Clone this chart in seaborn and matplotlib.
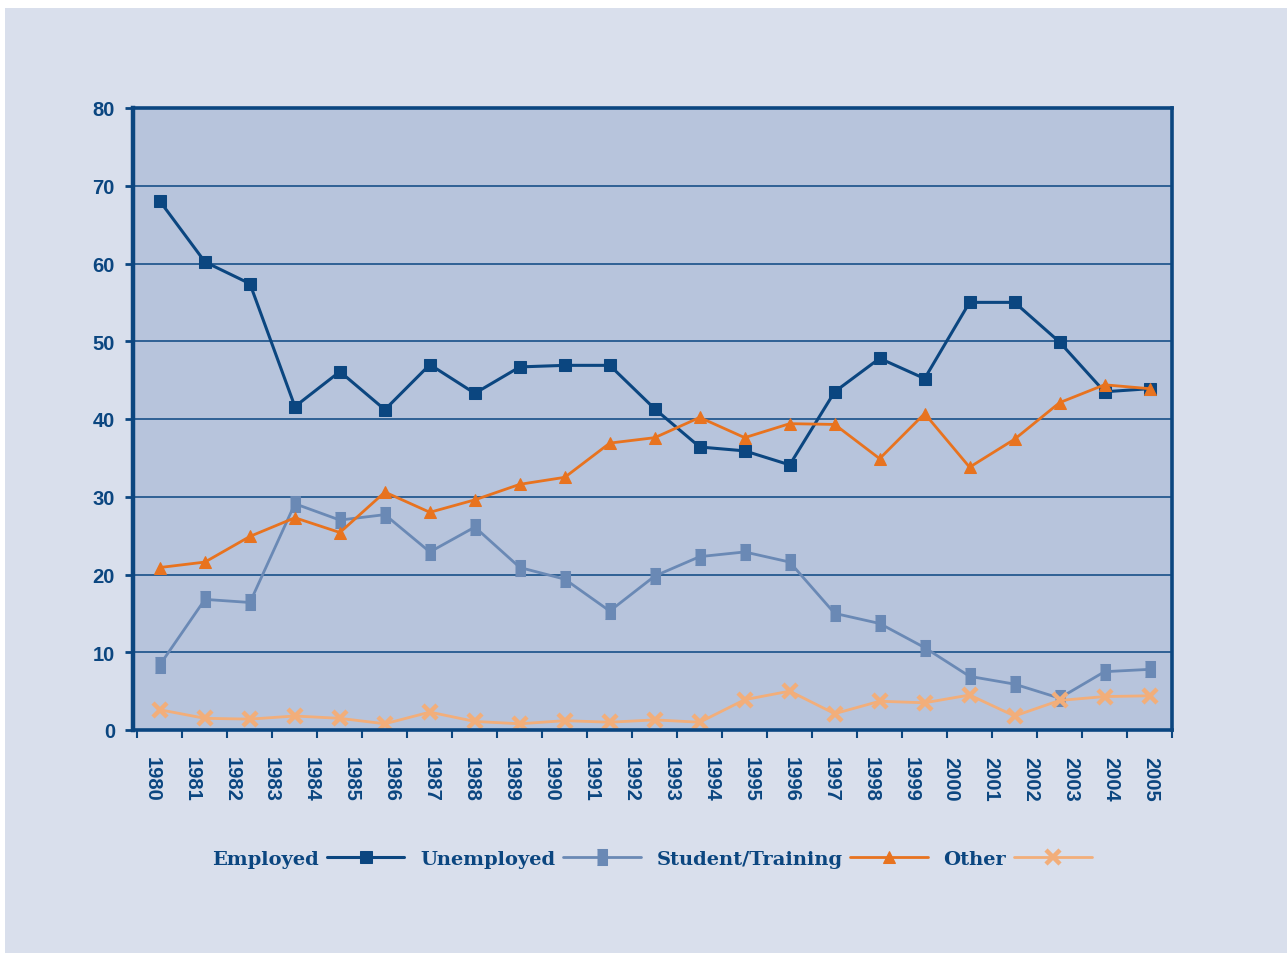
import numpy as np
import pandas as pd
import seaborn as sns
import matplotlib.pyplot as plt
from matplotlib.patches import Rectangle

# year labels shown under the axis (26 of them) -- the series only have 23 points
year_labels = [str(y) for y in range(1980, 2006)]

employed = [68.0, 60.2, 57.4, 41.6, 46.1, 41.2, 47.0, 43.3, 46.7, 46.9, 46.9, 41.3,
            36.4, 35.9, 34.1, 43.5, 47.8, 45.2, 55.0, 55.0, 49.9, 43.5, 43.9]
unemployed = [8.4, 16.8, 16.4, 29.1, 27.0, 27.7, 22.9, 26.1, 20.9, 19.4, 15.3, 19.8,
              22.3, 22.9, 21.6, 15.0, 13.7, 10.6, 6.9, 5.9, 4.1, 7.5, 7.8]
student = [20.9, 21.6, 24.9, 27.3, 25.4, 30.6, 28.0, 29.6, 31.6, 32.5, 36.9, 37.6,
           40.2, 37.6, 39.4, 39.3, 34.9, 40.7, 33.8, 37.4, 42.1, 44.4, 43.9]
other = [2.6, 1.5, 1.4, 1.8, 1.5, 0.8, 2.3, 1.1, 0.8, 1.2, 1.0, 1.3,
         1.0, 3.9, 5.0, 2.1, 3.7, 3.5, 4.5, 1.8, 3.8, 4.3, 4.4]

series_names = ['Employed', 'Unemployed', 'Student/Training', 'Other']

df = pd.DataFrame({'point': np.arange(len(employed)),
                   'Employed': employed,
                   'Unemployed': unemployed,
                   'Student/Training': student,
                   'Other': other})
long_df = df.melt(id_vars='point', var_name='status', value_name='pct')

navy = '#0B4680'
styles = {
    'Employed': dict(color=navy, marker='s', markersize=8.5, lw=2.2, mec=navy),
    'Unemployed': dict(color='#6A89B5', marker=[(-0.6, -1), (0.6, -1), (0.6, 1), (-0.6, 1)],
                       markersize=11, lw=2.0, mec='#6A89B5'),
    'Student/Training': dict(color='#E8731F', marker='^', markersize=9, lw=2.0, mec='#E8731F'),
    'Other': dict(color='#F2AE7A', marker='x', markersize=10, mew=3.2, lw=2.0, mec='#F2AE7A'),
}

sns.set_style('white')
plt.rcParams['font.family'] = ['Liberation Sans', 'DejaVu Sans']

fig = plt.figure(figsize=(12.87, 9.54), dpi=100, facecolor='white')
fig.patches.append(Rectangle((5 / 1287, 0), 1, 1 - 9 / 954, transform=fig.transFigure,
                             facecolor='#D9DFEC', edgecolor='none', zorder=-10))
ax = fig.add_axes([133 / 1287, 1 - 731 / 954, 1039 / 1287, 622 / 954])
ax.set_facecolor('#B7C4DC')

for name in series_names:
    sub = long_df[long_df['status'] == name]
    sns.lineplot(data=sub, x='point', y='pct', ax=ax, label=name, **styles[name])

ax.set_xlim(-0.6, 22.47)
ax.set_ylim(0, 80)
ax.set_yticks(range(0, 81, 10))
ax.yaxis.grid(True, color='#24598F', lw=1.3)
ax.set_axisbelow(True)

# year labels are spread a bit tighter than the data points in the original
ax.set_xticks(np.linspace(-0.18, 22.02, len(year_labels)))
ax.set_xticklabels(year_labels, rotation=-90)
ax.set_xticks(np.arange(-0.5, 22.6, 1), minor=True)
ax.tick_params(axis='x', which='major', length=0, pad=19)
ax.tick_params(axis='x', which='minor', length=6, width=1.5, color=navy, direction='out',
               bottom=True)
ax.tick_params(axis='y', length=6, width=2, color=navy, direction='out', left=True, pad=7)
for lab in ax.get_xticklabels() + ax.get_yticklabels():
    lab.set_fontweight('bold')
    lab.set_fontsize(14.5)
    lab.set_color(navy)

ax.set_xlabel('')
ax.set_ylabel('')
for side, w in [('left', 3.2), ('right', 2.6), ('top', 2.6), ('bottom', 2.6)]:
    ax.spines[side].set_visible(True)
    ax.spines[side].set_color(navy)
    ax.spines[side].set_linewidth(w)

handles, labels = ax.get_legend_handles_labels()
ax.get_legend().remove()
leg = fig.legend(handles, labels, loc='center', bbox_to_anchor=(652 / 1287, 1 - 860 / 954),
                 ncol=4, frameon=False, markerfirst=False, handlelength=4.0,
                 handletextpad=0.4, columnspacing=0.8,
                 prop={'family': 'DejaVu Serif', 'weight': 'bold', 'size': 14})
for t in leg.get_texts():
    t.set_color(navy)

fig.savefig('out.png', dpi=100, facecolor=fig.get_facecolor())
